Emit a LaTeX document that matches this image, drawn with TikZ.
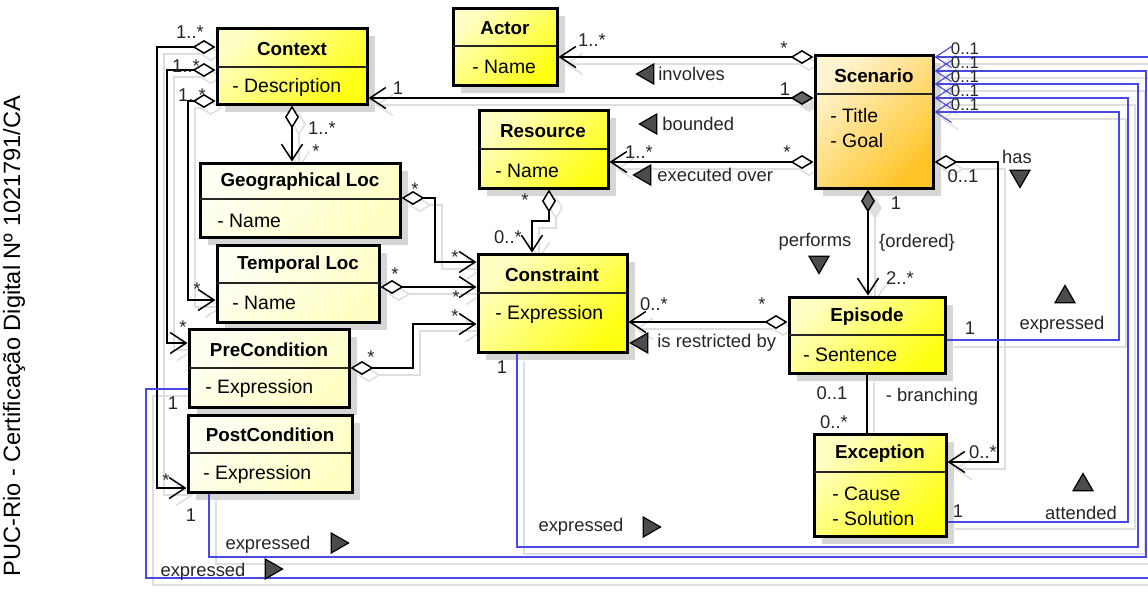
\documentclass[tikz,border=0pt]{standalone}
\usepackage{fontspec}
\setmainfont{Liberation Sans}
\usetikzlibrary{arrows.meta,shapes.geometric,backgrounds}

\definecolor{blueline}{RGB}{72,72,228}
\definecolor{yelA}{RGB}{255,255,196}
\definecolor{yelB}{RGB}{255,255,20}
\definecolor{paleA}{RGB}{255,255,244}
\definecolor{paleB}{RGB}{255,255,196}
\definecolor{orA}{RGB}{255,244,208}
\definecolor{orB}{RGB}{255,196,40}

\tikzset{
  classbox/.style={draw=black, line width=1.5pt, inner sep=0pt},
  yel/.style={top color=yelA, bottom color=yelB, shading angle=45},
  pale/.style={top color=paleA, bottom color=paleB, shading angle=45},
  orng/.style={top color=orA, bottom color=orB, shading angle=45},
  boxshadow/.style={fill=black!16},
  divider/.style={draw=black!85, line width=0.6pt},
  ctitle/.style={font=\fontsize{9.4}{11}\selectfont\bfseries, inner sep=0pt},
  attr/.style={font=\fontsize{9.7}{11}\selectfont, anchor=west, inner sep=0pt},
  lbl/.style={font=\fontsize{9.2}{11}\selectfont, inner sep=0pt, text=black!85},
  mult/.style={font=\fontsize{8.4}{10}\selectfont, inner sep=0pt, text=black!85},
  tri/.style={regular polygon, regular polygon sides=3, minimum size=11.5pt,
    inner sep=0pt, draw=black, line width=0.6pt, fill=black!70},
  cl/.style={draw=black, line width=0.75pt},
  bl/.style={draw=blueline, line width=0.55pt},
  barb/.style={-{Straight Barb[length=8pt,width=10.5pt]}},
  odia/.style={{Diamond[length=11.5pt,width=7pt,fill=white]}-{Straight Barb[length=8pt,width=10.5pt]}},
  fdia/.style={{Diamond[length=11.5pt,width=7pt,fill=black!60]}-{Straight Barb[length=8pt,width=10.5pt]}},
}

% class box: name, x1, y1, x2, y2, y of compartment line, fill style
\newcommand\umlclass[7]{%
  \fill[boxshadow] ({#2+8},{#3+8}) rectangle ({#4+8},{#5+8});
  \node[classbox,#7,minimum width={(#4-#2)*0.5pt},minimum height={(#5-#3)*0.5pt}]
    (#1) at ({(#2+#4)/2},{(#3+#5)/2}) {};
  \draw[divider] (#2,#6) -- (#4,#6);
}

% all associations, drawn once as shadow and once for real
\newcommand\connectors{%
  \draw[cl,odia] (scn.west |- 0,57) -- (act.east |- 0,57);
  \draw[cl,fdia] (scn.west |- 0,98) -- (ctx.east |- 0,98);
  \draw[cl,odia] (scn.west |- 0,162) -- (res.east |- 0,162);
  \draw[cl,odia] (ctx.south -| 292,0) -- (geo.north -| 292,0);
  \draw[cl,odia] (ctx.west |- 0,47) -- (157,47) -- (157,488) -- (post.west |- 0,488);
  \draw[cl,odia] (ctx.west |- 0,70) -- (167,70) -- (167,343) -- (pre.west |- 0,343);
  \draw[cl,odia] (ctx.west |- 0,101) -- (188,101) -- (188,300) -- (tmp.west |- 0,300);
  \draw[cl,odia] (geo.east |- 0,198) -- (435,198) -- (435,262) -- (cons.west |- 0,262);
  \draw[cl,odia] (tmp.east |- 0,287) -- (cons.west |- 0,287);
  \draw[cl,odia] (pre.east |- 0,368) -- (413,368) -- (413,324) -- (cons.west |- 0,324);
  \draw[cl,odia] (res.south -| 549,0) -- (549,221) -- (532,221) -- (cons.north -| 532,0);
  \draw[cl,odia] (epi.west |- 0,322) -- (cons.east |- 0,322);
  \draw[cl,fdia] (scn.south -| 868,0) -- (epi.north -| 868,0);
  \draw[cl,odia] (scn.east |- 0,162) -- (998,162) -- (998,462) -- (exc.east |- 0,462);
  \draw[cl] (epi.south -| 867,0) -- (exc.north -| 867,0);
  \draw[bl,barb] (epi.east |- 0,340) -- (1119,340) -- (1119,112) -- (scn.east |- 0,112);
  \draw[bl,barb] (exc.east |- 0,522) -- (1128,522) -- (1128,98) -- (scn.east |- 0,98);
  \draw[bl,barb] (cons.south -| 517,0) -- (517,547) -- (1138,547) -- (1138,84) -- (scn.east |- 0,84);
  \draw[bl,barb] (post.south -| 209,0) -- (209,557) -- (1146,557) -- (1146,71) -- (scn.east |- 0,71);
  \draw[bl,barb] (pre.west |- 0,389) -- (146,389) -- (146,578) -- (1158,578) -- (1158,57) -- (scn.east |- 0,57);
}

\begin{document}
\begin{tikzpicture}[x=0.5pt,y=-0.5pt]
\useasboundingbox (0,0) rectangle (1148,602);
\begin{scope}[on background layer]
  \fill[white] (0,0) rectangle (1148,602);
\end{scope}

% side imprint
\node[rotate=90, font=\fontsize{11.8}{14}\selectfont, inner sep=0pt] (imprint) at (14,336)
  {PUC-Rio - Certificação Digital Nº 1021791/CA};

% classes
\umlclass{act}{453}{8}{557}{85}{46}{yel}
\umlclass{ctx}{217}{28}{367}{104}{67}{yel}
\umlclass{scn}{815}{55}{933}{188}{94}{orng}
\umlclass{res}{479}{110}{608}{188}{149}{yel}
\umlclass{geo}{200}{163}{400}{237}{199}{pale}
\umlclass{tmp}{217}{245}{379}{322}{283}{pale}
\umlclass{cons}{478}{254}{627}{352}{293}{yel}
\umlclass{epi}{789}{297}{945}{373}{335}{yel}
\umlclass{pre}{189}{329}{349}{407}{368}{pale}
\umlclass{post}{188}{415}{352}{492}{453}{pale}
\umlclass{exc}{814}{434}{946}{536}{472}{yel}

% class names and attributes
\node[ctitle] (act-t) at (505,28) {Actor};
\node[attr] (act-a) at (472,67) {- Name};
\node[ctitle] (ctx-t) at (292,49) {Context};
\node[attr] (ctx-a) at (232,87) {- Description};
\node[ctitle] (scn-t) at (874,76) {Scenario};
\node[attr] (scn-a1) at (830,116) {- Title};
\node[attr] (scn-a2) at (830,141) {- Goal};
\node[ctitle] (res-t) at (543,131) {Resource};
\node[attr] (res-a) at (495,171) {- Name};
\node[ctitle] (geo-t) at (300,182) {Geographical Loc};
\node[attr] (geo-a) at (217,221) {- Name};
\node[ctitle] (tmp-t) at (298,265) {Temporal Loc};
\node[attr] (tmp-a) at (232,303) {- Name};
\node[ctitle] (cons-t) at (552,275) {Constraint};
\node[attr] (cons-a) at (495,314) {- Expression};
\node[ctitle] (epi-t) at (867,317) {Episode};
\node[attr] (epi-a) at (803,355) {- Sentence};
\node[ctitle] (pre-t) at (269,350) {PreCondition};
\node[attr] (pre-a) at (205,388) {- Expression};
\node[ctitle] (post-t) at (270,435) {PostCondition};
\node[attr] (post-a) at (203,474) {- Expression};
\node[ctitle] (exc-t) at (880,454) {Exception};
\node[attr] (exc-a1) at (832,494) {- Cause};
\node[attr] (exc-a2) at (832,519) {- Solution};

% associations
\connectors
\begin{scope}[on background layer]
  \begin{scope}[transform canvas={shift={(3.5pt,-3.5pt)}},
      cl/.style={draw=black!13, line width=0.75pt},
      bl/.style={draw=black!13, line width=0.55pt},
      fdia/.style={{Diamond[length=11.5pt,width=7pt,fill=black!13]}-{Straight Barb[length=8pt,width=10.5pt]}}]
    \connectors
  \end{scope}
\end{scope}

% multiplicities
\node[lbl] (m1) at (190,32) {1..*};
\node[lbl] (m2) at (186,66) {1..*};
\node[lbl] (m3) at (192,95) {1..*};
\node[lbl] (m4) at (398,88) {1};
\node[lbl] (m5) at (322,128) {1..*};
\node[lbl] (m6) at (316,151) {*};
\node[lbl] (m7) at (592,40) {1..*};
\node[lbl] (m8) at (784,48) {*};
\node[lbl] (m9) at (785,89) {1};
\node[lbl] (m10) at (787,152) {*};
\node[lbl] (m11) at (639,152) {1..*};
\node[lbl] (m12) at (896,203) {1};
\node[lbl] (m13) at (900,278) {2..*};
\node[lbl] (m14) at (963,176) {0..1};
\node[lbl] (m15) at (983,452) {0..*};
\node[lbl] (m16) at (832,393) {0..1};
\node[lbl] (m17) at (834,422) {0..*};
\node[lbl] (m18) at (970,328) {1};
\node[lbl] (m19) at (958,511) {1};
\node[lbl] (m20) at (502,367) {1};
\node[lbl] (m21) at (173,403) {1};
\node[lbl] (m22) at (191,515) {1};
\node[lbl] (m23) at (415,189) {*};
\node[lbl] (m24) at (455,257) {*};
\node[lbl] (m25) at (395,274) {*};
\node[lbl] (m26) at (456,297) {*};
\node[lbl] (m27) at (371,357) {*};
\node[lbl] (m28) at (455,316) {*};
\node[lbl] (m29) at (197,289) {*};
\node[lbl] (m30) at (183,327) {*};
\node[lbl] (m31) at (166,480) {*};
\node[lbl] (m32) at (525,200) {*};
\node[lbl] (m33) at (508,237) {0..*};
\node[lbl] (m34) at (654,304) {0..*};
\node[lbl] (m35) at (762,304) {*};
\node[mult] (m36) at (965,49) {0..1};
\node[mult] (m37) at (965,63) {0..1};
\node[mult] (m38) at (965,77) {0..1};
\node[mult] (m39) at (965,91) {0..1};
\node[mult] (m40) at (965,105) {0..1};

% association names with reading direction
\node[tri, rotate=90] (t-inv) at (648,74) {};
\node[lbl, anchor=west] (l-inv) at (658,74) {involves};
\node[tri, rotate=90] (t-bnd) at (651,124) {};
\node[lbl, anchor=west] (l-bnd) at (662,124) {bounded};
\node[tri, rotate=90] (t-exo) at (645,175) {};
\node[lbl, anchor=west] (l-exo) at (657,175) {executed over};
\node[tri, rotate=90] (t-res) at (642,343) {};
\node[lbl, anchor=west] (l-res) at (657,343) {is restricted by};
\node[lbl] (l-perf) at (815,242) {performs};
\node[tri, rotate=180] (t-perf) at (819,262) {};
\node[lbl] (l-ord) at (917,243) {\{ordered\}};
\node[lbl] (l-has) at (1017,157) {has};
\node[tri, rotate=180] (t-has) at (1020,176) {};
\node[tri] (t-epx) at (1065,297) {};
\node[lbl] (l-epx) at (1062,325) {expressed};
\node[tri] (t-att) at (1083,485) {};
\node[lbl] (l-att) at (1081,513) {attended};
\node[lbl] (l-cx) at (581,527) {expressed};
\node[tri, rotate=-90] (t-cx) at (649,527) {};
\node[lbl] (l-px) at (268,545) {expressed};
\node[tri, rotate=-90] (t-px) at (337,543) {};
\node[lbl] (l-prx) at (203,572) {expressed};
\node[tri, rotate=-90] (t-prx) at (271,569) {};
\node[lbl] (l-br) at (932,397) {- branching};
\end{tikzpicture}
\end{document}
